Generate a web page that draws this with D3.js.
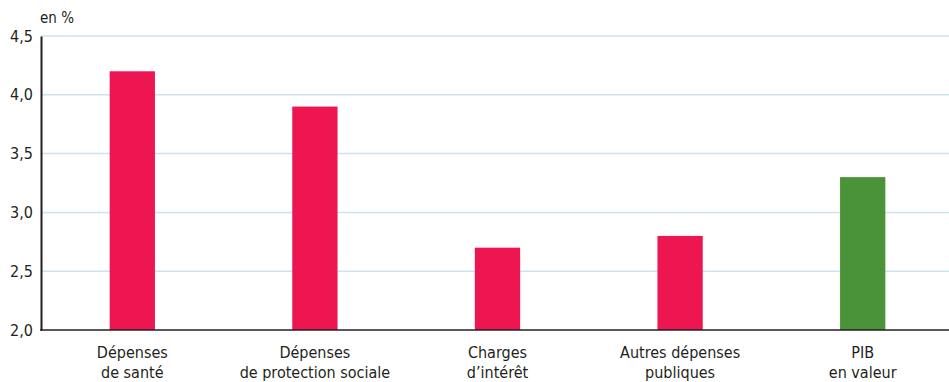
<!DOCTYPE html>
<html>
<head>
<meta charset="utf-8">
<script src="https://cdn.jsdelivr.net/npm/d3@7"></script>
<style>
  body { margin: 0; background: #fff; }
  svg text { font-family: "Liberation Sans Narrow", "Arial Narrow", "DejaVu Sans Condensed", sans-serif; fill: #231f20; }
</style>
</head>
<body>
<div id="chart"></div>
<script>
// ── Data ────────────────────────────────────────────────
const categories = [
  ['Dépenses', 'de santé'],
  ['Dépenses', 'de protection sociale'],
  ['Charges', 'd’intérêt'],
  ['Autres dépenses', 'publiques'],
  ['PIB', 'en valeur'],
];
const values = [4.2, 3.9, 2.7, 2.8, 3.3];
const isGdp = [false, false, false, false, true];
const yTicks = [2.0, 2.5, 3.0, 3.5, 4.0, 4.5];

// ── Layout ──────────────────────────────────────────────
const width = 949, height = 382;
const margin = { top: 36, right: 0, bottom: 52, left: 41 };

const svg = d3.select('#chart').append('svg')
  .attr('width', width)
  .attr('height', height);

// band range runs a little past the right edge so bar spacing matches
const x = d3.scaleBand()
  .domain(d3.range(categories.length))
  .range([margin.left, width + 5])
  .paddingInner(0.752)
  .paddingOuter(0.376);

const y = d3.scaleLinear()
  .domain([2.0, 4.5])
  .range([height - margin.bottom, margin.top]);

const fmt = d => d.toFixed(1).replace('.', ',');

// grid lines
svg.append('g')
  .selectAll('line')
  .data(yTicks.slice(1))
  .join('line')
  .attr('x1', margin.left)
  .attr('x2', width - margin.right)
  .attr('y1', d => y(d))
  .attr('y2', d => y(d))
  .attr('stroke', '#c9e3f5')
  .attr('stroke-width', 1.5);

// bars
svg.append('g')
  .selectAll('rect')
  .data(values)
  .join('rect')
  .attr('x', (d, i) => x(i))
  .attr('width', x.bandwidth())
  .attr('y', d => y(d))
  .attr('height', d => y(2.0) - y(d))
  .attr('fill', (d, i) => isGdp[i] ? '#4a9339' : '#ed1651');

// y axis
const yAxis = svg.append('g')
  .attr('transform', `translate(${margin.left},0)`)
  .call(d3.axisLeft(y).tickValues(yTicks).tickFormat(fmt).tickSize(0).tickPadding(8));
yAxis.select('.domain').attr('stroke', '#231f20').attr('stroke-width', 2);
yAxis.selectAll('text').style('font-size', '16px').attr('fill', '#231f20');

// x axis baseline
svg.append('line')
  .attr('x1', margin.left - 1)
  .attr('x2', width)
  .attr('y1', y(2.0))
  .attr('y2', y(2.0))
  .attr('stroke', '#231f20')
  .attr('stroke-width', 1.5);

// category labels
const labels = svg.append('g')
  .selectAll('text')
  .data(categories)
  .join('text')
  .attr('text-anchor', 'middle')
  .attr('x', (d, i) => x(i) + x.bandwidth() / 2)
  .attr('y', y(2.0) + 28)
  .style('font-size', '16px');
labels.selectAll('tspan')
  .data(d => d)
  .join('tspan')
  .attr('x', function () { return this.parentNode.getAttribute('x'); })
  .attr('dy', (d, i) => i === 0 ? 0 : 20)
  .text(d => d);

// unit label
svg.append('text')
  .attr('x', 40)
  .attr('y', 23)
  .style('font-size', '15px')
  .text('en %');
</script>
</body>
</html>
